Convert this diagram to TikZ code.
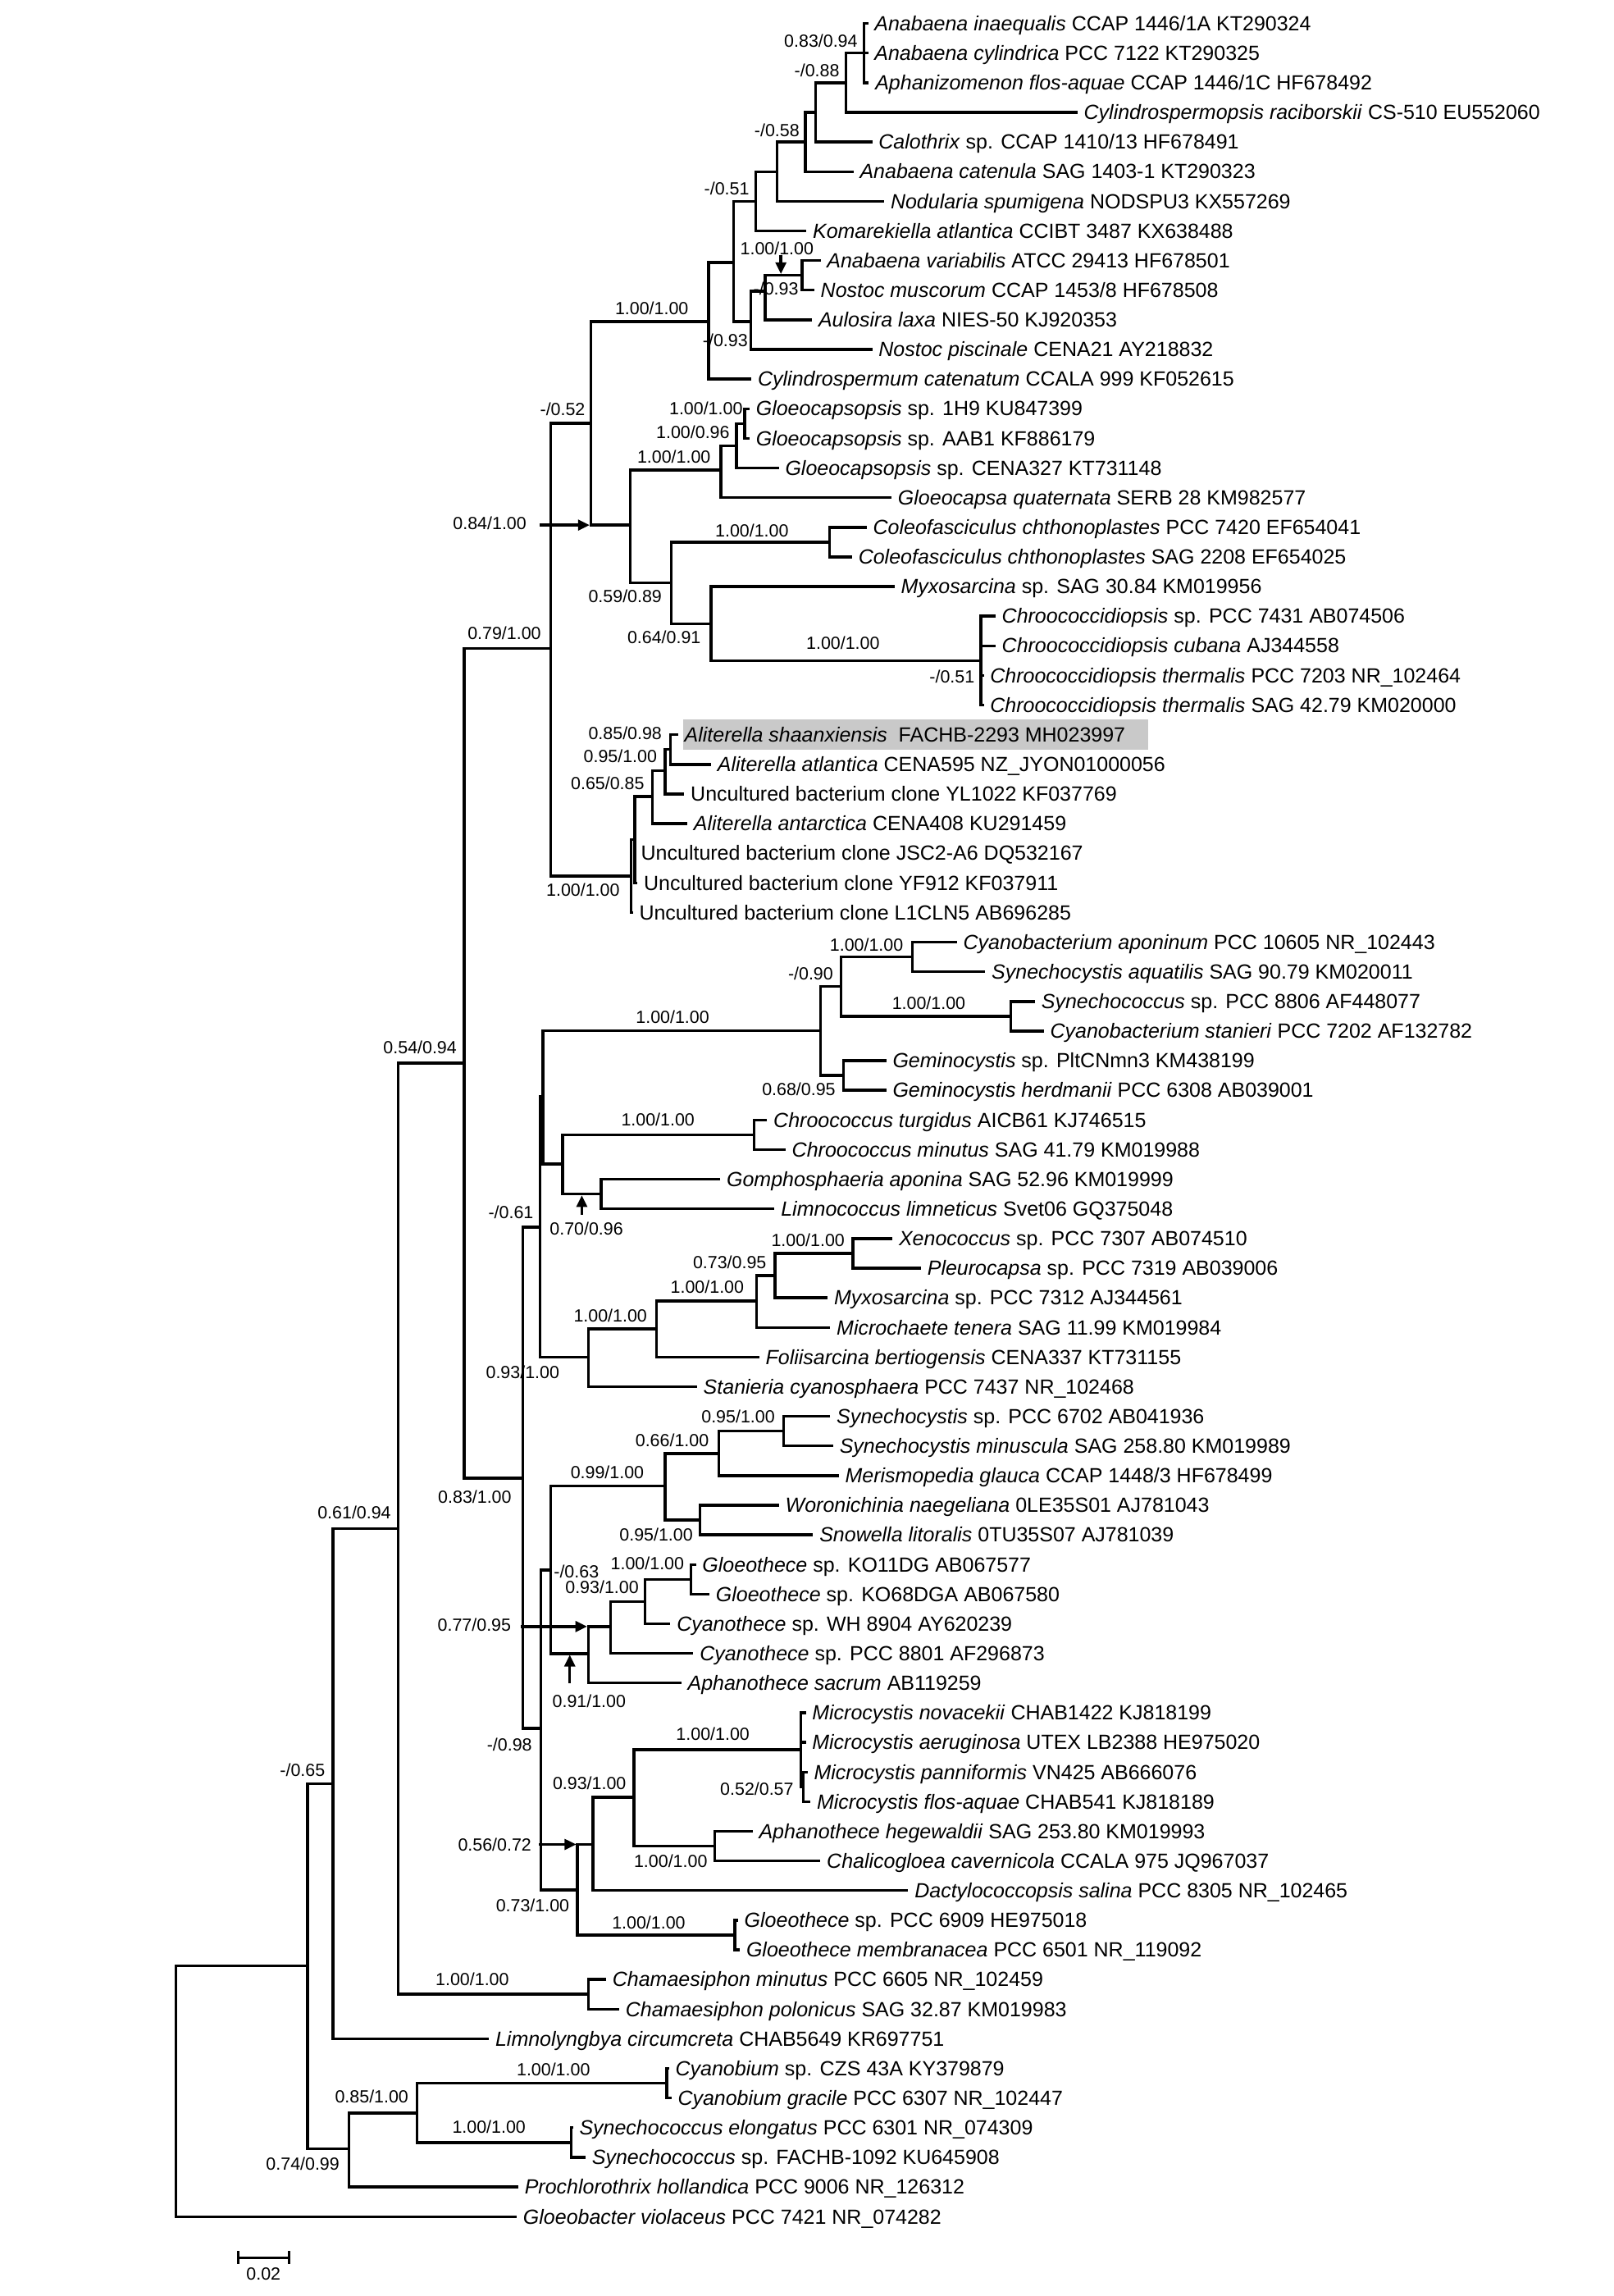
\documentclass[tikz,border=0pt]{standalone}
\usepackage{fontspec}
\setmainfont{Liberation Sans}
\usetikzlibrary{arrows.meta}

\begin{document}
\begin{tikzpicture}[
  x=0.5pt, y=-0.5pt,
  >={Triangle[length=4pt,width=3.6pt]},
  br/.style={line width=0.95pt},
  arr/.style={line width=0.95pt, ->, shorten >=0.4pt},
  leaf/.style={anchor=west, inner xsep=2pt, inner ysep=0pt, text height=4.9pt, text depth=0pt, font=\fontsize{7}{8}\selectfont},
  bs/.style={inner sep=0pt, text height=4.3pt, text depth=0pt, font=\fontsize{6}{7}\selectfont},
  hlbox/.style={fill=black!21}]
\useasboundingbox (0,0) rectangle (1102,1568);

% highlighted new strain
\fill[hlbox] (466.5,491.2) rectangle (784.5,512.2);

% taxa
\node[leaf] (l1) at (593,16) {\textit{Anabaena inaequalis} CCAP 1446/1A KT290324};
\node[leaf] (l2) at (593,36.2) {\textit{Anabaena cylindrica} PCC 7122 KT290325};
\node[leaf] (l3) at (593.5,56.5) {\textit{Aphanizomenon flos-aquae} CCAP 1446/1C HF678492};
\node[leaf] (l4) at (736,76.7) {\textit{Cylindrospermopsis raciborskii} CS-510 EU552060};
\node[leaf] (l5) at (595.8,97) {\textit{Calothrix} sp. CCAP 1410/13 HF678491};
\node[leaf] (l6) at (583,117.2) {\textit{Anabaena catenula} SAG 1403-1 KT290323};
\node[leaf] (l7) at (604,137.4) {\textit{Nodularia spumigena} NODSPU3 KX557269};
\node[leaf] (l8) at (550.8,157.7) {\textit{Komarekiella atlantica} CCIBT 3487 KX638488};
\node[leaf] (l9) at (560.5,177.9) {\textit{Anabaena variabilis} ATCC 29413 HF678501};
\node[leaf] (l10) at (556.2,198.2) {\textit{Nostoc muscorum} CCAP 1453/8 HF678508};
\node[leaf] (l11) at (554.7,218.4) {\textit{Aulosira laxa} NIES-50 KJ920353};
\node[leaf] (l12) at (595.8,238.6) {\textit{Nostoc piscinale} CENA21 AY218832};
\node[leaf] (l13) at (513.3,258.9) {\textit{Cylindrospermum catenatum} CCALA 999 KF052615};
\node[leaf] (l14) at (512,279.1) {\textit{Gloeocapsopsis} sp. 1H9 KU847399};
\node[leaf] (l15) at (512,299.4) {\textit{Gloeocapsopsis} sp. AAB1 KF886179};
\node[leaf] (l16) at (532,319.6) {\textit{Gloeocapsopsis} sp. CENA327 KT731148};
\node[leaf] (l17) at (609,339.8) {\textit{Gloeocapsa quaternata} SERB 28 KM982577};
\node[leaf] (l18) at (592,360.1) {\textit{Coleofasciculus chthonoplastes} PCC 7420 EF654041};
\node[leaf] (l19) at (582,380.3) {\textit{Coleofasciculus chthonoplastes} SAG 2208 EF654025};
\node[leaf] (l20) at (611,400.6) {\textit{Myxosarcina} sp. SAG 30.84 KM019956};
\node[leaf] (l21) at (680,420.8) {\textit{Chroococcidiopsis} sp. PCC 7431 AB074506};
\node[leaf] (l22) at (680,441) {\textit{Chroococcidiopsis cubana} AJ344558};
\node[leaf] (l23) at (672,461.3) {\textit{Chroococcidiopsis thermalis} PCC 7203 NR\_102464};
\node[leaf] (l24) at (672,481.5) {\textit{Chroococcidiopsis thermalis} SAG 42.79 KM020000};
\node[leaf] (l25) at (463.2,501.8) {\textit{Aliterella shaanxiensis}\hspace{0.55em}FACHB-2293 MH023997};
\node[leaf] (l26) at (485.7,522) {\textit{Aliterella atlantica} CENA595 NZ\_JYON01000056};
\node[leaf] (l27) at (467.4,542.2) {Uncultured bacterium clone YL1022 KF037769};
\node[leaf] (l28) at (469.5,562.5) {\textit{Aliterella antarctica} CENA408 KU291459};
\node[leaf] (l29) at (433.5,582.7) {Uncultured bacterium clone JSC2-A6 DQ532167};
\node[leaf] (l30) at (435.4,603) {Uncultured bacterium clone YF912 KF037911};
\node[leaf] (l31) at (432.3,623.2) {Uncultured bacterium clone L1CLN5 AB696285};
\node[leaf] (l32) at (653.6,643.4) {\textit{Cyanobacterium aponinum} PCC 10605 NR\_102443};
\node[leaf] (l33) at (673,663.7) {\textit{Synechocystis aquatilis} SAG 90.79 KM020011};
\node[leaf] (l34) at (707,683.9) {\textit{Synechococcus} sp. PCC 8806 AF448077};
\node[leaf] (l35) at (713,704.2) {\textit{Cyanobacterium stanieri} PCC 7202 AF132782};
\node[leaf] (l36) at (605.4,724.4) {\textit{Geminocystis} sp. PltCNmn3 KM438199};
\node[leaf] (l37) at (605.4,744.6) {\textit{Geminocystis herdmanii} PCC 6308 AB039001};
\node[leaf] (l38) at (524,764.9) {\textit{Chroococcus turgidus} AICB61 KJ746515};
\node[leaf] (l39) at (536.6,785.1) {\textit{Chroococcus minutus} SAG 41.79 KM019988};
\node[leaf] (l40) at (492,805.4) {\textit{Gomphosphaeria aponina} SAG 52.96 KM019999};
\node[leaf] (l41) at (529.1,825.6) {\textit{Limnococcus limneticus} Svet06 GQ375048};
\node[leaf] (l42) at (609.6,845.8) {\textit{Xenococcus} sp. PCC 7307 AB074510};
\node[leaf] (l43) at (629.1,866.1) {\textit{Pleurocapsa} sp. PCC 7319 AB039006};
\node[leaf] (l44) at (565.4,886.3) {\textit{Myxosarcina} sp. PCC 7312 AJ344561};
\node[leaf] (l45) at (567.1,906.6) {\textit{Microchaete tenera} SAG 11.99 KM019984};
\node[leaf] (l46) at (518.6,926.8) {\textit{Foliisarcina bertiogensis} CENA337 KT731155};
\node[leaf] (l47) at (476.1,947) {\textit{Stanieria cyanosphaera} PCC 7437 NR\_102468};
\node[leaf] (l48) at (567.1,967.3) {\textit{Synechocystis} sp. PCC 6702 AB041936};
\node[leaf] (l49) at (569.1,987.5) {\textit{Synechocystis minuscula} SAG 258.80 KM019989};
\node[leaf] (l50) at (572.9,1007.8) {\textit{Merismopedia glauca} CCAP 1448/3 HF678499};
\node[leaf] (l51) at (532.1,1028) {\textit{Woronichinia naegeliana} 0LE35S01 AJ781043};
\node[leaf] (l52) at (555.4,1048.2) {\textit{Snowella litoralis} 0TU35S07 AJ781039};
\node[leaf] (l53) at (475.4,1068.5) {\textit{Gloeothece} sp. KO11DG AB067577};
\node[leaf] (l54) at (484.6,1088.7) {\textit{Gloeothece} sp. KO68DGA AB067580};
\node[leaf] (l55) at (457.9,1109) {\textit{Cyanothece} sp. WH 8904 AY620239};
\node[leaf] (l56) at (473.6,1129.2) {\textit{Cyanothece} sp. PCC 8801 AF296873};
\node[leaf] (l57) at (465.4,1149.4) {\textit{Aphanothece sacrum} AB119259};
\node[leaf] (l58) at (550.4,1169.7) {\textit{Microcystis novacekii} CHAB1422 KJ818199};
\node[leaf] (l59) at (550.4,1189.9) {\textit{Microcystis aeruginosa} UTEX LB2388 HE975020};
\node[leaf] (l60) at (551.6,1210.2) {\textit{Microcystis panniformis} VN425 AB666076};
\node[leaf] (l61) at (553.6,1230.4) {\textit{Microcystis flos-aquae} CHAB541 KJ818189};
\node[leaf] (l62) at (514.1,1250.6) {\textit{Aphanothece hegewaldii} SAG 253.80 KM019993};
\node[leaf] (l63) at (560.4,1270.9) {\textit{Chalicogloea cavernicola} CCALA 975 JQ967037};
\node[leaf] (l64) at (620.4,1291.1) {\textit{Dactylococcopsis salina} PCC 8305 NR\_102465};
\node[leaf] (l65) at (504.1,1311.4) {\textit{Gloeothece} sp. PCC 6909 HE975018};
\node[leaf] (l66) at (505.4,1331.6) {\textit{Gloeothece membranacea} PCC 6501 NR\_119092};
\node[leaf] (l67) at (414,1351.8) {\textit{Chamaesiphon minutus} PCC 6605 NR\_102459};
\node[leaf] (l68) at (423,1372.1) {\textit{Chamaesiphon polonicus} SAG 32.87 KM019983};
\node[leaf] (l69) at (334,1392.3) {\textit{Limnolyngbya circumcreta} CHAB5649 KR697751};
\node[leaf] (l70) at (457,1412.6) {\textit{Cyanobium} sp. CZS 43A KY379879};
\node[leaf] (l71) at (458.6,1432.8) {\textit{Cyanobium gracile} PCC 6307 NR\_102447};
\node[leaf] (l72) at (391.4,1453) {\textit{Synechococcus elongatus} PCC 6301 NR\_074309};
\node[leaf] (l73) at (400,1473.3) {\textit{Synechococcus} sp. FACHB-1092 KU645908};
\node[leaf] (l74) at (354,1493.5) {\textit{Prochlorothrix hollandica} PCC 9006 NR\_126312};
\node[leaf] (l75) at (353,1513.8) {\textit{Gloeobacter violaceus} PCC 7421 NR\_074282};

% internal nodes
\coordinate (root) at (120,1342.6);
\coordinate (core) at (210,1342.6);
\coordinate (cc1) at (227.5,1218.2);
\coordinate (syncl) at (238.3,1467.5);
\coordinate (cc2) at (272,1044);
\coordinate (cc3) at (317,726);
\coordinate (cham) at (402,1361.9);
\coordinate (cyasyn) at (285,1443);
\coordinate (cyb) at (455.4,1422.7);
\coordinate (syne) at (390.3,1463.2);
\coordinate (upper) at (376,443);
\coordinate (lower) at (357,1009.5);
\coordinate (nostg) at (403.6,289.1);
\coordinate (alig) at (431,598.3);
\coordinate (nost) at (484,219.5);
\coordinate (chrg) at (430.6,358.6);
\coordinate (nost2) at (501.2,179.2);
\coordinate (anab1) at (516.2,137.4);
\coordinate (nost3) at (513,219.5);
\coordinate (nost4) at (522.7,198.9);
\coordinate (nost5) at (547.9,188);
\coordinate (anab2) at (530.8,117.2);
\coordinate (anab3) at (550.1,97);
\coordinate (anab4) at (557,76.7);
\coordinate (anab5) at (578,56.5);
\coordinate (anab6) at (590.2,36.2);
\coordinate (gcap) at (492.4,321);
\coordinate (gcap2) at (503,304.4);
\coordinate (gcap3) at (508.6,289.3);
\coordinate (colg) at (458.6,398);
\coordinate (coleo) at (566.6,370.2);
\coordinate (myxg) at (485.6,425.9);
\coordinate (chroo) at (670,451.2);
\coordinate (alig2) at (433.5,573.5);
\coordinate (alit) at (445.6,543.9);
\coordinate (alit2) at (454.4,526.3);
\coordinate (alit3) at (458,511.9);
\coordinate (mid) at (369,838);
\coordinate (mid2) at (370.8,749);
\coordinate (cyanob) at (560.6,704);
\coordinate (cyanob2) at (574.4,673.8);
\coordinate (cyanob3) at (623.1,653.6);
\coordinate (cyanob4) at (690.6,694);
\coordinate (gemin) at (576.1,734.5);
\coordinate (chrc) at (384.4,795);
\coordinate (chroc) at (515,775);
\coordinate (gomph) at (410.6,815.5);
\coordinate (pleu) at (401.9,926.9);
\coordinate (pleu2) at (448.6,907.5);
\coordinate (pleu3) at (516.9,888.4);
\coordinate (pleu4) at (529.4,871.2);
\coordinate (pleu5) at (582.6,856);
\coordinate (bot) at (369.4,1180.4);
\coordinate (synw) at (376.1,1072.2);
\coordinate (synw2) at (454.4,1014.8);
\coordinate (synw3) at (491.1,992.6);
\coordinate (synw4) at (535.1,977.4);
\coordinate (woro) at (478.1,1038.1);
\coordinate (gthc) at (401.9,1129.3);
\coordinate (gthc2) at (416.9,1110.8);
\coordinate (gthc3) at (440.6,1093.8);
\coordinate (gthc4) at (471.9,1078.6);
\coordinate (micg) at (394.4,1290.7);
\coordinate (micg2) at (405.1,1259.6);
\coordinate (micg3) at (433.1,1227.3);
\coordinate (micro) at (546.9,1195);
\coordinate (micro2) at (548.6,1220.3);
\coordinate (aphh) at (488.1,1260.8);
\coordinate (gthpcc) at (501.9,1321.5);

% branches
\draw[br] (l1.west) -| (anab6) |- (l3.west);
\draw[br] (anab6) |- (l2.west);
\draw[br] (anab6) -| (anab5) |- (l4.west);
\draw[br] (anab5) -| (anab4) |- (l5.west);
\draw[br] (anab4) -| (anab3) |- (l6.west);
\draw[br] (anab3) -| (anab2) |- (l7.west);
\draw[br] (anab2) -| (anab1) |- (l8.west);
\draw[br] (l9.west) -| (nost5) |- (l10.west);
\draw[br] (nost5) -| (nost4) |- (l11.west);
\draw[br] (nost4) -| (nost3) |- (l12.west);
\draw[br] (anab1) -| (nost2) |- (nost3);
\draw[br] (nost2) -| (nost) |- (l13.west);
\draw[br] (l14.west) -| (gcap3) |- (l15.west);
\draw[br] (gcap3) -| (gcap2) |- (l16.west);
\draw[br] (gcap2) -| (gcap) |- (l17.west);
\draw[br] (l18.west) -| (coleo) |- (l19.west);
\draw[br] (l21.west) -| (chroo) |- (l24.west);
\draw[br] (chroo) |- (l22.west) (chroo) |- (l23.west);
\draw[br] (l20.west) -| (myxg) |- (chroo);
\draw[br] (coleo) -| (colg) |- (myxg);
\draw[br] (gcap) -| (chrg) |- (colg);
\draw[br] (nost) -| (nostg) |- (chrg);
\draw[br] (l25.west) -| (alit3) |- (l26.west);
\draw[br] (alit3) -| (alit2) |- (l27.west);
\draw[br] (alit2) -| (alit) |- (l28.west);
\draw[br] (alit) -| (alig2) |- (l30.west);
\draw[br] (alig2) |- (l29.west);
\draw[br] (alig2) -| (alig) |- (l31.west);
\draw[br] (nostg) -| (upper) |- (alig);
\draw[br] (l32.west) -| (cyanob3) |- (l33.west);
\draw[br] (l34.west) -| (cyanob4) |- (l35.west);
\draw[br] (cyanob3) -| (cyanob2) |- (cyanob4);
\draw[br] (l36.west) -| (gemin) |- (l37.west);
\draw[br] (cyanob2) -| (cyanob) |- (gemin);
\draw[br] (l38.west) -| (chroc) |- (l39.west);
\draw[br] (l40.west) -| (gomph) |- (l41.west);
\draw[br] (chroc) -| (chrc) |- (gomph);
\draw[br] (cyanob) -| (mid2) |- (chrc);
\draw[br] (l42.west) -| (pleu5) |- (l43.west);
\draw[br] (pleu5) -| (pleu4) |- (l44.west);
\draw[br] (pleu4) -| (pleu3) |- (l45.west);
\draw[br] (pleu3) -| (pleu2) |- (l46.west);
\draw[br] (pleu2) -| (pleu) |- (l47.west);
\draw[br] (mid2) -| (mid) |- (pleu);
\draw[br] (l48.west) -| (synw4) |- (l49.west);
\draw[br] (synw4) -| (synw3) |- (l50.west);
\draw[br] (l51.west) -| (woro) |- (l52.west);
\draw[br] (synw3) -| (synw2) |- (woro);
\draw[br] (l53.west) -| (gthc4) |- (l54.west);
\draw[br] (gthc4) -| (gthc3) |- (l55.west);
\draw[br] (gthc3) -| (gthc2) |- (l56.west);
\draw[br] (gthc2) -| (gthc) |- (l57.west);
\draw[br] (synw2) -| (synw) |- (gthc);
\draw[br] (l60.west) -| (micro2) |- (l61.west);
\draw[br] (l58.west) -| (micro) |- (micro2);
\draw[br] (micro) |- (l59.west);
\draw[br] (l62.west) -| (aphh) |- (l63.west);
\draw[br] (micro) -| (micg3) |- (aphh);
\draw[br] (micg3) -| (micg2) |- (l64.west);
\draw[br] (l65.west) -| (gthpcc) |- (l66.west);
\draw[br] (micg2) -| (micg) |- (gthpcc);
\draw[br] (synw) -| (bot) |- (micg);
\draw[br] (mid) -| (lower) |- (bot);
\draw[br] (upper) -| (cc3) |- (lower);
\draw[br] (l67.west) -| (cham) |- (l68.west);
\draw[br] (cc3) -| (cc2) |- (cham);
\draw[br] (cc2) -| (cc1) |- (l69.west);
\draw[br] (l70.west) -| (cyb) |- (l71.west);
\draw[br] (l72.west) -| (syne) |- (l73.west);
\draw[br] (cyb) -| (cyasyn) |- (syne);
\draw[br] (cyasyn) -| (syncl) |- (l74.west);
\draw[br] (cc1) -| (core) |- (syncl);
\draw[br] (core) -| (root) |- (l75.west);

% support values (PP/BI)
\node[bs] (s1) at (560.7,28.1) {0.83/0.94};
\node[bs] (s2) at (558,47.8) {-/0.88};
\node[bs] (s3) at (530.7,89.1) {-/0.58};
\node[bs] (s4) at (496.4,128.5) {-/0.51};
\node[bs] (s5) at (530.7,169.8) {1.00/1.00};
\node[bs] (s6) at (530,197) {-/0.93};
\node[bs] (s7) at (445.2,210.5) {1.00/1.00};
\node[bs] (s8) at (495.4,232.6) {-/0.93};
\node[bs] (s9) at (384.3,279.5) {-/0.52};
\node[bs] (s10) at (482.2,278.6) {1.00/1.00};
\node[bs] (s11) at (473.3,295.3) {1.00/0.96};
\node[bs] (s12) at (460.3,312.1) {1.00/1.00};
\node[bs] (s13) at (334.5,357.5) {0.84/1.00};
\node[bs] (s14) at (513.6,362.1) {1.00/1.00};
\node[bs] (s15) at (427,407.3) {0.59/0.89};
\node[bs] (s16) at (453.6,435.3) {0.64/0.91};
\node[bs] (s17) at (575.8,439) {1.00/1.00};
\node[bs] (s18) at (650.3,462.3) {-/0.51};
\node[bs] (s19) at (344.5,432.5) {0.79/1.00};
\node[bs] (s20) at (427,500.5) {0.85/0.98};
\node[bs] (s21) at (423.7,516.5) {0.95/1.00};
\node[bs] (s22) at (415,535.1) {0.65/0.85};
\node[bs] (s23) at (398.2,607.7) {1.00/1.00};
\node[bs] (s24) at (591.9,645.4) {1.00/1.00};
\node[bs] (s25) at (553.7,664.8) {-/0.90};
\node[bs] (s26) at (634.4,684.9) {1.00/1.00};
\node[bs] (s27) at (459.4,694.5) {1.00/1.00};
\node[bs] (s28) at (545.6,744) {0.68/0.95};
\node[bs] (s29) at (286.9,715.5) {0.54/0.94};
\node[bs] (s30) at (449.4,764.8) {1.00/1.00};
\node[bs] (s31) at (400.6,838.9) {0.70/0.96};
\node[bs] (s32) at (349,827.7) {-/0.61};
\node[bs] (s33) at (551.9,846.9) {1.00/1.00};
\node[bs] (s34) at (498.4,861.9) {0.73/0.95};
\node[bs] (s35) at (483.1,878.7) {1.00/1.00};
\node[bs] (s36) at (416.9,898.3) {1.00/1.00};
\node[bs] (s37) at (357,937) {0.93/1.00};
\node[bs] (s38) at (459.1,983.5) {0.66/1.00};
\node[bs] (s39) at (504.2,967.6) {0.95/1.00};
\node[bs] (s40) at (414.8,1005.3) {0.99/1.00};
\node[bs] (s41) at (324.3,1022) {0.83/1.00};
\node[bs] (s42) at (242,1032.9) {0.61/0.94};
\node[bs] (s43) at (448.2,1048.1) {0.95/1.00};
\node[bs] (s44) at (442.2,1067.6) {1.00/1.00};
\node[bs] (s45) at (393.7,1073) {-/0.63};
\node[bs] (s46) at (411.2,1084) {0.93/1.00};
\node[bs] (s47) at (324,1109.8) {0.77/0.95};
\node[bs] (s48) at (402.4,1161.6) {0.91/1.00};
\node[bs] (s49) at (486.9,1184.1) {1.00/1.00};
\node[bs] (s50) at (348,1191.6) {-/0.98};
\node[bs] (s51) at (402.6,1217.8) {0.93/1.00};
\node[bs] (s52) at (517,1221.7) {0.52/0.57};
\node[bs] (s53) at (206.6,1209) {-/0.65};
\node[bs] (s54) at (337.9,1260) {0.56/0.72};
\node[bs] (s55) at (458.1,1271.2) {1.00/1.00};
\node[bs] (s56) at (363.8,1301.1) {0.73/1.00};
\node[bs] (s57) at (443.1,1312.9) {1.00/1.00};
\node[bs] (s58) at (322.6,1351.5) {1.00/1.00};
\node[bs] (s59) at (378,1413) {1.00/1.00};
\node[bs] (s60) at (253.9,1432) {0.85/1.00};
\node[bs] (s61) at (334,1452.5) {1.00/1.00};
\node[bs] (s62) at (206.8,1477.7) {0.74/0.99};

% pointers to crowded nodes
\coordinate (a1) at (368.6,358.6);
\coordinate (a2) at (533.4,174.5);
\coordinate (a3) at (397.4,829.5);
\coordinate (a4) at (355.6,1110.8);
\coordinate (a5) at (389.2,1149.5);
\coordinate (a6) at (368.1,1259.6);
\draw[arr] (a1) -- (a1 -| nostg);
\draw[arr] (a2) -- (a2 |- nost5);
\draw[arr] (a3) -- (a3 |- gomph);
\draw[arr] (a4) -- (a4 -| gthc);
\draw[arr] (a5) -- (a5 |- gthc);
\draw[arr] (a6) -- (a6 -| micg);

% scale bar
\coordinate (sb1) at (162.6,1541.8);
\coordinate (sb2) at (197.4,1541.8);
\draw[br] (sb1) -- (sb2);
\draw[br] ([yshift=2.2pt]sb1) -- ([yshift=-2.2pt]sb1);
\draw[br] ([yshift=2.2pt]sb2) -- ([yshift=-2.2pt]sb2);
\node[bs] (sbl) at (180,1553) {0.02};
\end{tikzpicture}
\end{document}
